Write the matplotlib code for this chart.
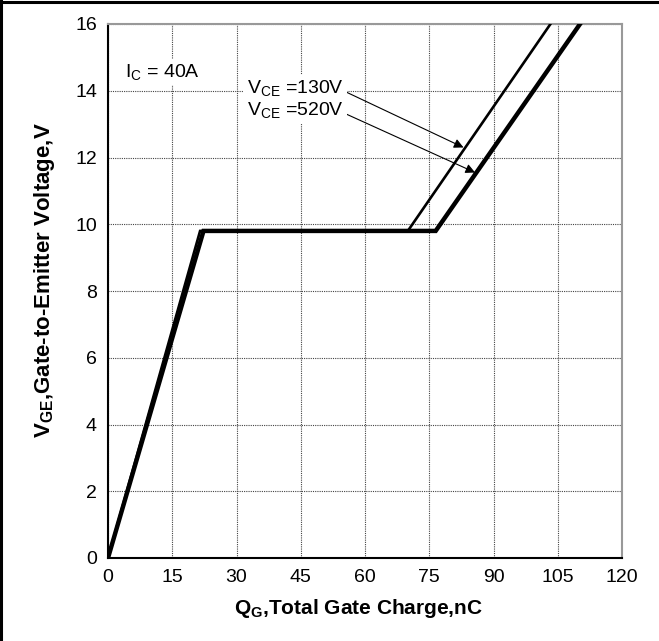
import numpy as np
import matplotlib.pyplot as plt
from matplotlib.lines import Line2D

plt.rcParams['font.family'] = ['Liberation Sans', 'DejaVu Sans']
plt.rcParams['mathtext.fontset'] = 'custom'
plt.rcParams['mathtext.rm'] = 'Liberation Sans'
plt.rcParams['mathtext.it'] = 'Liberation Sans:italic'
plt.rcParams['mathtext.bf'] = 'Liberation Sans:bold'

# gate charge curves
qg_130 = [0, 21.5, 70.0, 103.3]     # nC
vge_130 = [0, 9.8, 9.8, 16.0]       # V
qg_520 = [0, 22.3, 76.5, 110.2]     # nC
vge_520 = [0, 9.8, 9.8, 16.0]       # V

x_ticks = [0, 15, 30, 45, 60, 75, 90, 105, 120]
y_ticks = [0, 2, 4, 6, 8, 10, 12, 14, 16]

fig = plt.figure(figsize=(6.59, 6.41), dpi=100)
ax = fig.add_axes([108/659, 83/641, 514/659, 534/641])

ax.plot(qg_130, vge_130, color='black', lw=1.9, solid_joinstyle='miter', zorder=3)
ax.plot(qg_520, vge_520, color='black', lw=3.2, solid_joinstyle='miter', zorder=3)

ax.set_xlim(0, 120)
ax.set_ylim(0, 16)
ax.set_xticks(x_ticks)
ax.set_yticks(y_ticks)
ax.tick_params(length=0, labelsize=14, pad=8)
ax.grid(True, color='#444444', linestyle=(0, (1, 1)), linewidth=0.8)

for s in ['top', 'right']:
    ax.spines[s].set_color('#999999')
    ax.spines[s].set_linewidth(1.5)
for s in ['left', 'bottom']:
    ax.spines[s].set_color('black')
    ax.spines[s].set_linewidth(1.5)

ax.set_xlabel(r'$\mathbf{Q_{G}}$,Total Gate Charge,nC', fontsize=15,
              fontweight='bold', va='center')
ax.set_ylabel(r'$\mathbf{V_{GE}}$,Gate-to-Emitter Voltage,V', fontsize=16,
              fontweight='bold', va='center')
ax.xaxis.set_label_coords(0.488, -0.094)
ax.yaxis.set_label_coords(-0.1226, 0.52)

box = dict(facecolor='white', edgecolor='none', pad=2)
ax.text(4.0, 14.56, r'I$_\mathrm{C}$ = 40A', fontsize=14, va='center', bbox=box)

ax.annotate(r'V$_\mathrm{CE}$ =130V', xy=(83.0, 12.3), xytext=(32.5, 14.08),
            fontsize=14, va='center', bbox=box,
            arrowprops=dict(arrowstyle='-|>', color='black', lw=0.8,
                            mutation_scale=14, shrinkA=0, shrinkB=0,
                            relpos=(1.0, 0.35)))
ax.annotate(r'V$_\mathrm{CE}$ =520V', xy=(85.7, 11.55), xytext=(32.5, 13.42),
            fontsize=14, va='center', bbox=box,
            arrowprops=dict(arrowstyle='-|>', color='black', lw=0.8,
                            mutation_scale=14, shrinkA=0, shrinkB=0,
                            relpos=(1.0, 0.35)))

# frame lines on the left and top of the figure
fig.add_artist(Line2D([0.002, 0.002], [0, 0.998], color='black', lw=2.2,
                      transform=fig.transFigure))
fig.add_artist(Line2D([0, 1], [0.997, 0.997], color='black', lw=2.2,
                      transform=fig.transFigure))

fig.savefig('out.png', dpi=100)
